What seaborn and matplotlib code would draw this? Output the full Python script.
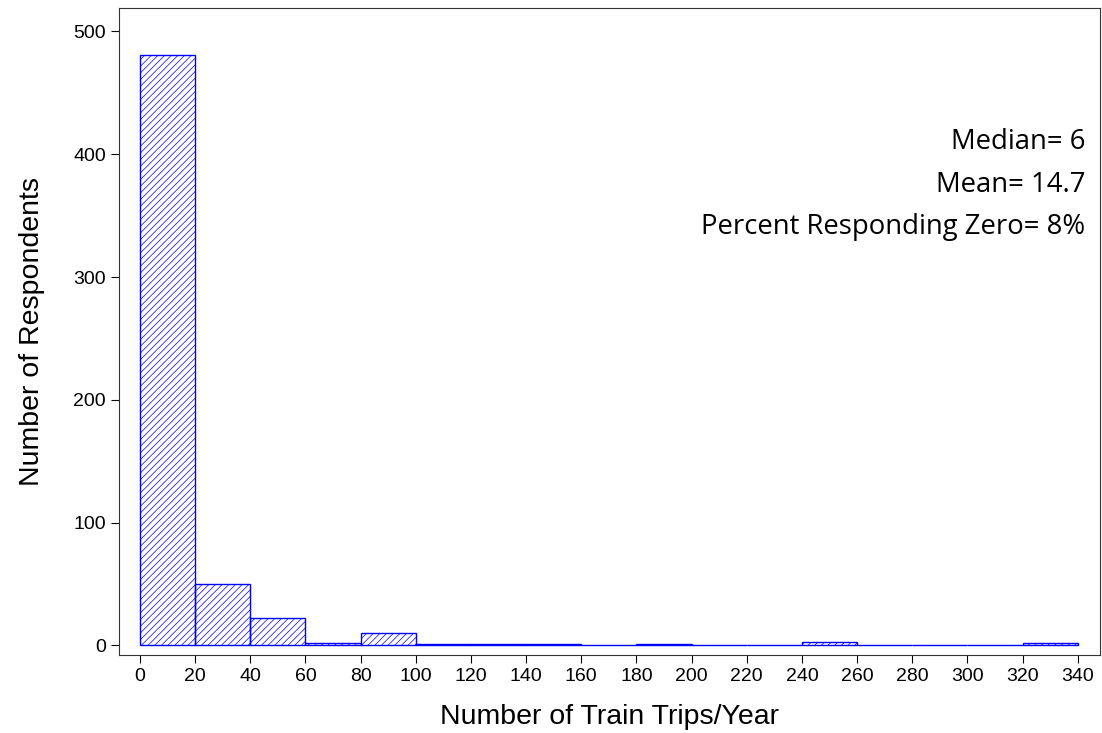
import matplotlib
matplotlib.use("Agg")
import matplotlib.pyplot as plt
import seaborn as sns
import pandas as pd

bin_starts = [0, 20, 40, 60, 80, 100, 120, 140, 160, 180, 200, 220, 240, 260, 280, 300, 320]
counts = [481, 50, 22, 2, 10, 1, 1, 1, 0, 1, 0, 0, 3, 0, 0, 0, 2]
stats_text = ["Median= 6", "Mean= 14.7", "Percent Responding Zero= 8%"]

df = pd.DataFrame({"trips": [b + 10 for b in bin_starts], "n": counts})

sns.set_style("ticks")
plt.rcParams['font.family'] = ['Liberation Sans', 'DejaVu Sans']
plt.rcParams['hatch.color'] = 'blue'
plt.rcParams['hatch.linewidth'] = 0.5
plt.rcParams['text.color'] = 'black'
plt.rcParams['axes.labelcolor'] = 'black'
plt.rcParams['xtick.color'] = 'black'
plt.rcParams['ytick.color'] = 'black'
fig = plt.figure(figsize=(11.02, 7.33), dpi=100)
ax = fig.add_axes([0.108, 0.106, 0.89, 0.883])
sns.histplot(data=df, x="trips", weights="n", bins=list(range(0, 341, 20)),
             fill=False, color="blue", edgecolor="blue", linewidth=1.0, ax=ax)
for p in ax.patches:
    p.set_hatch("/////")
    p.set_edgecolor("blue")
ax.set_xlim(-7.6, 348)
ax.set_ylim(-8, 519)
ax.set_xticks(range(0, 341, 20))
ax.set_yticks(range(0, 501, 100))
ax.tick_params(labelsize=14, direction="out", length=6, colors="black")
ax.set_xlabel("Number of Train Trips/Year", fontsize=20.5, labelpad=13)
ax.set_ylabel("Number of Respondents", fontsize=20.5, labelpad=20)
for s in ax.spines.values():
    s.set_visible(True)
    s.set_color("#333333")
for i, t in enumerate(stats_text):
    ax.text(0.985, 0.793 - i * 0.066, t, transform=ax.transAxes, ha="right",
            va="center", fontsize=19.8, color="black", family=["Open Sans", "DejaVu Sans"])
fig.savefig("out.png", dpi=100)
